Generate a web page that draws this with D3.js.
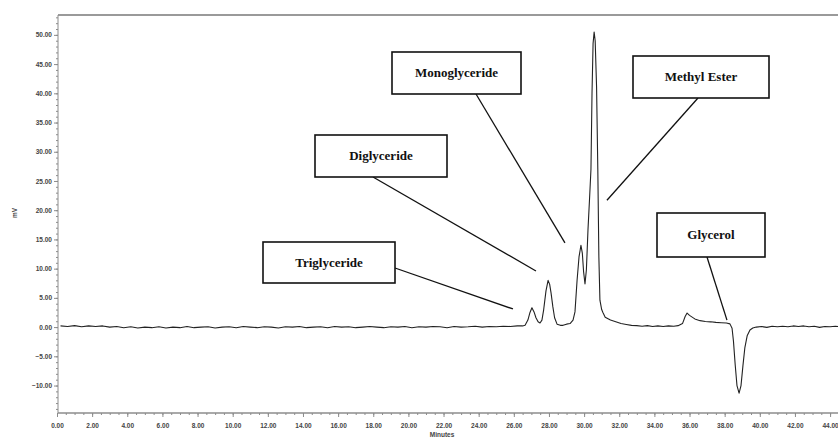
<!DOCTYPE html>
<html>
<head>
<meta charset="utf-8">
<script src="https://cdn.jsdelivr.net/npm/d3@7/dist/d3.min.js"></script>
<style>
  body { margin: 0; background: #fff; }
  svg { display: block; }
</style>
</head>
<body>
<svg id="chart" width="838" height="439"></svg>
<script>
// Detector trace, [retention time (min), response (mV)]
const baselineTrace = [
  [0.2,0.2],[0.6,0.1],[1.0,0.25],[1.4,0.05],[1.8,0.2],[2.2,0.1],[2.6,0.2],[3.0,0.0],
  [3.4,0.1],[3.8,-0.1],[4.2,0.05],[4.6,-0.15],[5.0,0.0],[5.4,-0.1],[5.8,0.05],[6.2,-0.15],
  [6.6,0.0],[7.0,-0.1],[7.4,0.1],[7.8,-0.1],[8.2,0.0],[8.6,0.05],[9.0,-0.15],[9.4,0.0],
  [9.8,0.05],[10.2,-0.1],[10.6,0.1],[11.0,0.0],[11.4,-0.1],[11.8,0.05],[12.2,0.0],[12.6,-0.15],
  [13.0,0.05],[13.4,0.0],[13.8,0.1],[14.2,-0.1],[14.6,0.0],[15.0,0.05],[15.4,-0.1],[15.8,0.1],
  [16.2,0.0],[16.6,0.05],[17.0,-0.1],[17.4,0.0],[17.8,0.1],[18.2,0.0],[18.6,-0.1],[19.0,0.05],
  [19.4,0.0],[19.8,0.1],[20.2,-0.1],[20.6,0.05],[21.0,0.0],[21.4,0.1],[21.8,0.05],[22.2,-0.1],
  [22.6,0.1],[23.0,0.0],[23.4,0.05],[23.8,0.15],[24.2,0.0],[24.6,0.1],[25.0,0.05],[25.4,0.15],
  [25.8,0.1],[26.2,0.2]
];

const glycerideTrace = [
  [26.5,0.2],[26.64,0.3],[26.8,1.2],[26.92,2.5],[27.03,3.3],[27.15,2.6],[27.26,1.6],[27.38,0.9],
  [27.49,0.7],[27.6,1.2],[27.7,3.0],[27.83,6.2],[27.95,8.0],[28.04,7.3],[28.12,5.8],[28.22,3.5],
  [28.32,1.6],[28.46,0.5],[28.65,0.3],[28.8,0.3],[29.0,0.5],[29.2,0.6],[29.37,1.2],[29.48,2.6],
  [29.6,8.0],[29.71,12.0],[29.82,14.0],[29.9,12.6],[29.97,9.5],[30.05,7.4],[30.13,9.8],[30.22,16.6],
  [30.31,22.0],[30.39,27.0],[30.45,40.0],[30.51,48.5],[30.57,50.5],[30.63,49.0],[30.71,41.0],[30.78,27.0],
  [30.84,12.0],[30.9,4.6],[31.0,3.0],[31.07,2.5]
];

const esterTailTrace = [
  [31.2,1.7],[31.5,1.2],[31.8,0.9],[32.1,0.6],[32.4,0.45],[32.7,0.3],[33.0,0.25],[33.3,0.15],
  [33.6,0.25],[33.9,0.1],[34.2,0.2],[34.5,0.1],[34.8,0.2],[35.1,0.15],[35.35,0.25],[35.6,0.6],
  [35.75,1.8],[35.86,2.4],[36.0,2.0],[36.3,1.4],[36.6,1.1],[36.9,0.95],[37.2,0.9],[37.5,0.8],
  [37.8,0.75],[38.1,0.7],[38.3,0.55]
];

const glycerolTrace = [
  [38.42,-0.2],[38.5,-2.4],[38.6,-6.5],[38.7,-10.0],[38.82,-11.3],[38.93,-10.0],[39.04,-6.6],[39.15,-3.5],
  [39.28,-1.5],[39.44,-0.5],[39.6,-0.15],[39.8,0.0]
];

const lateBaselineTrace = [
  [40.1,0.1],[40.4,-0.05],[40.7,0.15],[41.0,0.05],[41.3,0.15],[41.6,0.05],[41.9,0.2],[42.2,0.1],
  [42.5,0.2],[42.8,0.05],[43.1,0.15],[43.4,-0.05],[43.7,0.1],[44.0,0.05],[44.3,0.15],[44.45,0.1]
];

// Axis tick values
const xTickValues = [0,2,4,6,8,10,12,14,16,18,20,22,24,26,28,30,32,34,36,38,40,42,44];
const yTickValues = [-10,-5,0,5,10,15,20,25,30,35,40,45,50];

// Peak callouts: name and the (min, mV) point each leader line points at
const peakNames = ["Triglyceride", "Diglyceride", "Monoglyceride", "Methyl Ester", "Glycerol"];
const leaderTips = [[25.95,3.1],[27.26,9.6],[28.91,14.4],[31.3,21.7],[38.13,1.2]];

// Callout box geometry (pixels) and where each leader leaves its box
const calloutLayout = [
  { x: 263, y: 242, w: 132, h: 41, ax: 395, ay: 268 },
  { x: 315, y: 135, w: 132, h: 42, ax: 373, ay: 177 },
  { x: 392, y: 52,  w: 129, h: 42, ax: 476, ay: 94 },
  { x: 633, y: 56,  w: 136, h: 42, ax: 698, ay: 98 },
  { x: 657, y: 213, w: 108, h: 44, ax: 707, ay: 257 }
];

const trace = [].concat(baselineTrace, glycerideTrace, esterTailTrace, glycerolTrace, lateBaselineTrace);

const svg = d3.select("#chart");
const plot = { left: 58, right: 838, top: 15, bottom: 413 };

const x = d3.scaleLinear().domain([0, 44.45]).range([57, 838]);
const y = d3.scaleLinear().domain([-14.7, 53.4]).range([413, 15]);

const axisGrey = "#8c8c8c";
const labelFont = "'Liberation Sans', Arial, sans-serif";

// Frame: grey top rule and left/bottom axis lines
svg.append("line")
  .attr("x1", plot.left).attr("x2", plot.right)
  .attr("y1", plot.top).attr("y2", plot.top)
  .attr("stroke", "#9a9a9a").attr("stroke-width", 2);

// Y axis: minor ticks every 1 mV, labelled ticks every 5 mV
const yMinor = d3.axisLeft(y).tickValues(d3.range(-14, 54, 1)).tickSize(2).tickFormat("");
const yMajor = d3.axisLeft(y).tickValues(yTickValues).tickSize(4).tickPadding(2)
  .tickFormat(d3.format(".2f"));

const gyMinor = svg.append("g").attr("transform", `translate(${plot.left},0)`).call(yMinor);
gyMinor.select(".domain").remove();
gyMinor.selectAll("line").attr("stroke", axisGrey);

const gy = svg.append("g").attr("transform", `translate(${plot.left},0)`).call(yMajor);
gy.select(".domain").attr("stroke", axisGrey).attr("d", `M0,${plot.top}V${plot.bottom}`);
gy.selectAll("line").attr("stroke", axisGrey);
gy.selectAll("text").attr("font-family", labelFont).attr("font-size", 6.5)
  .attr("fill", "#444").attr("font-weight", "bold");

// X axis: minor ticks every 0.5 min, labelled ticks every 2 min
const xMinor = d3.axisBottom(x).tickValues(d3.range(0.5, 44.5, 0.5)).tickSize(2).tickFormat("");
const xMajor = d3.axisBottom(x).tickValues(xTickValues).tickSize(4).tickPadding(6)
  .tickFormat(d3.format(".2f"));

const gxMinor = svg.append("g").attr("transform", `translate(0,${plot.bottom})`).call(xMinor);
gxMinor.select(".domain").remove();
gxMinor.selectAll("line").attr("stroke", axisGrey);

const gx = svg.append("g").attr("transform", `translate(0,${plot.bottom})`).call(xMajor);
gx.select(".domain").attr("stroke", axisGrey).attr("stroke-width", 1.5)
  .attr("d", `M${plot.left},0H${plot.right}`);
gx.selectAll("line").attr("stroke", axisGrey);
gx.selectAll("text").attr("font-family", labelFont).attr("font-size", 6.5)
  .attr("fill", "#444").attr("font-weight", "bold");

// Axis titles
svg.append("text")
  .attr("transform", "translate(17,213) rotate(-90)")
  .attr("text-anchor", "middle")
  .attr("font-family", labelFont).attr("font-size", 6.5).attr("font-weight", "bold")
  .attr("fill", "#444")
  .text("mV");

svg.append("text")
  .attr("x", 442).attr("y", 436.5)
  .attr("text-anchor", "middle")
  .attr("font-family", labelFont).attr("font-size", 6.5).attr("font-weight", "bold")
  .attr("fill", "#444")
  .text("Minutes");

// Chromatogram trace
const line = d3.line().x(d => x(d[0])).y(d => y(d[1]));
svg.append("path")
  .datum(trace)
  .attr("d", line)
  .attr("fill", "none")
  .attr("stroke", "#222")
  .attr("stroke-width", 1.1)
  .attr("stroke-linejoin", "round");

// Peak callouts
const callouts = svg.append("g").selectAll("g")
  .data(peakNames.map((name, i) => ({ name, tip: leaderTips[i], box: calloutLayout[i] })))
  .join("g");

callouts.append("line")
  .attr("x1", d => d.box.ax).attr("y1", d => d.box.ay)
  .attr("x2", d => x(d.tip[0])).attr("y2", d => y(d.tip[1]))
  .attr("stroke", "#111").attr("stroke-width", 1.3);

callouts.append("rect")
  .attr("x", d => d.box.x).attr("y", d => d.box.y)
  .attr("width", d => d.box.w).attr("height", d => d.box.h)
  .attr("fill", "#fff").attr("stroke", "#111").attr("stroke-width", 1.6);

callouts.append("text")
  .attr("x", d => d.box.x + d.box.w / 2)
  .attr("y", d => d.box.y + d.box.h / 2 + 4)
  .attr("text-anchor", "middle")
  .attr("font-family", "'Liberation Serif', 'Times New Roman', serif")
  .attr("font-size", 13).attr("font-weight", "bold")
  .attr("fill", "#111")
  .text(d => d.name);
</script>
</body>
</html>
